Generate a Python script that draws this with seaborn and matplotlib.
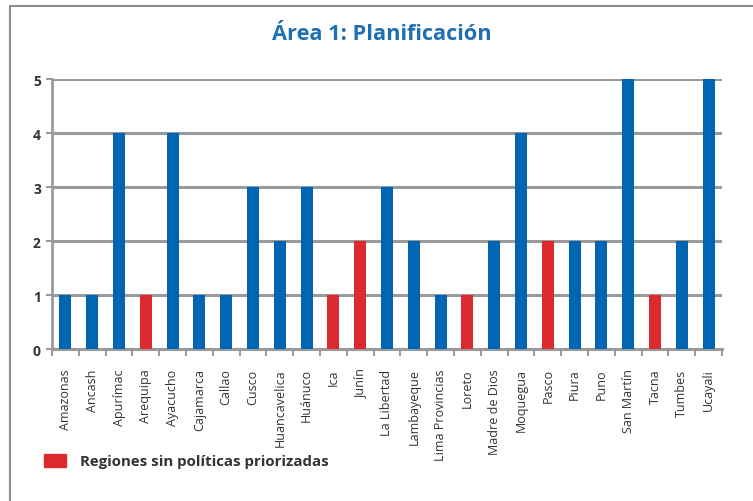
import matplotlib
matplotlib.use("Agg")
import matplotlib.pyplot as plt
import seaborn as sns
import pandas as pd
from matplotlib.patches import Patch
from matplotlib.lines import Line2D

regions = ["Amazonas", "Ancash", "Apurímac", "Arequipa", "Ayacucho", "Cajamarca",
           "Callao", "Cusco", "Huancavelica", "Huánuco", "Ica", "Junín",
           "La Libertad", "Lambayeque", "Lima Provincias", "Loreto", "Madre de Dios",
           "Moquegua", "Pasco", "Piura", "Puno", "San Martín", "Tacna", "Tumbes", "Ucayali"]
values = [1, 1, 4, 1, 4, 1, 1, 3, 2, 3, 1, 2, 3, 2, 1, 1, 2, 4, 2, 2, 2, 5, 1, 2, 5]
groups = ["con", "con", "con", "sin", "con", "con", "con", "con", "con", "con", "sin", "sin",
          "con", "con", "con", "sin", "con", "con", "sin", "con", "con", "con", "sin", "con", "con"]
yticks = [0, 1, 2, 3, 4, 5]
title = "Área 1: Planificación"
legend_label = "Regiones sin políticas priorizadas"

BLUE = "#0066b3"
RED = "#dc2a2e"
GRID = "#9a9a9a"

df = pd.DataFrame({"region": regions, "valor": values, "grupo": groups})

sns.set_style("white")
plt.rcParams["font.family"] = ["Open Sans", "DejaVu Sans"]

fig = plt.figure(figsize=(7.53, 5.02), dpi=100)
ax = fig.add_axes([52 / 753, 1 - 350 / 502, (722 - 52) / 753, (350 - 80) / 502])

sns.barplot(data=df, x="region", y="valor", hue="grupo", palette={"con": BLUE, "sin": RED},
            dodge=False, width=0.45, saturation=1, legend=False, ax=ax, zorder=3,
            linewidth=0, edgecolor="none")

ax.set_ylim(0, 5)
ax.set_xlim(-0.5, len(regions) - 0.5)
ax.set_yticks(yticks)
ax.set_yticklabels([str(t) for t in yticks], fontsize=10, fontweight="bold", color="#333333")
ax.yaxis.grid(True, color=GRID, linewidth=2.2, zorder=0)
ax.set_axisbelow(True)
ax.set_xlabel("")
ax.set_ylabel("")

ax.set_xticks(range(len(regions)))
ax.set_xticklabels(regions, rotation=90, fontsize=9, color="#333333")
ax.tick_params(axis="x", length=0, pad=14)
ax.tick_params(axis="y", length=4, width=1.5, color=GRID, pad=4, left=True)

# minor ticks at category boundaries
ax.set_xticks([i - 0.5 for i in range(len(regions) + 1)], minor=True)
ax.tick_params(axis="x", which="minor", length=5, width=1.5, color=GRID, bottom=True)

for s in ["top", "right"]:
    ax.spines[s].set_visible(False)
ax.spines["left"].set_color(GRID)
ax.spines["left"].set_linewidth(2)
ax.spines["bottom"].set_color(GRID)
ax.spines["bottom"].set_linewidth(2.2)

fig.text(0.507, 1 - 35 / 502, title, ha="center", va="center", fontsize=15.7,
         fontweight="bold", color="#1f6fb2")

handle = Patch(facecolor=RED, edgecolor=RED)
fig.legend([handle], [legend_label], loc="center left", bbox_to_anchor=(30 / 753, 1 - 462 / 502),
           frameon=False, prop={"size": 10.8, "weight": "bold"}, labelcolor="#333333",
           handlelength=1.5, handleheight=1.0, handletextpad=0.9)

# outer frame (left and top)
fig.add_artist(Line2D([10 / 753, 10 / 753], [0, 1 - 7 / 502], transform=fig.transFigure,
                      color="#8c8c8c", linewidth=1.5))
fig.add_artist(Line2D([10 / 753, 1], [1 - 7 / 502, 1 - 7 / 502], transform=fig.transFigure,
                      color="#8c8c8c", linewidth=1.5))

fig.savefig("out.png", dpi=100)
